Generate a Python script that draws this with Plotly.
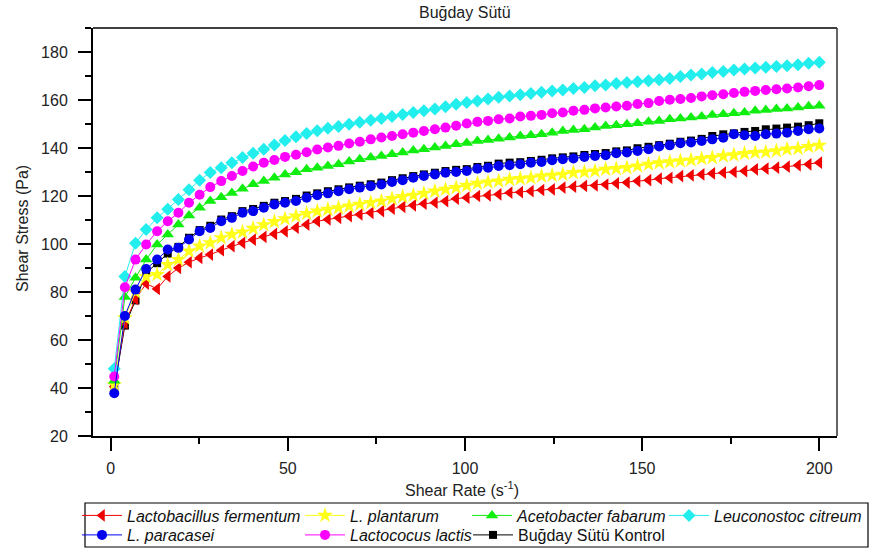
import plotly.graph_objects as go

FONT = "Liberation Sans, Arial, sans-serif"

shear_rate = [1.0, 4.0, 7.0, 10.0, 13.1, 16.1, 19.1, 22.1, 25.1, 28.1,
              31.2, 34.2, 37.2, 40.2, 43.2, 46.2, 49.2, 52.3, 55.3, 58.3,
              61.3, 64.3, 67.3, 70.3, 73.4, 76.4, 79.4, 82.4, 85.4, 88.4,
              91.5, 94.5, 97.5, 100.5, 103.5, 106.5, 109.5, 112.6, 115.6, 118.6,
              121.6, 124.6, 127.6, 130.6, 133.7, 136.7, 139.7, 142.7, 145.7, 148.7,
              151.8, 154.8, 157.8, 160.8, 163.8, 166.8, 169.8, 172.9, 175.9, 178.9,
              181.9, 184.9, 187.9, 190.9, 194.0, 197.0, 200.0]

l_fermentum = [40.5, 67.0, 77.0, 83.5, 81.3, 86.5, 90.0, 92.4, 94.2, 95.6,
               97.4, 99.1, 100.5, 101.8, 103.0, 104.2, 105.3, 106.8, 108.1, 109.5,
               110.2, 110.9, 111.6, 112.3, 113.0, 113.7, 114.7, 115.5, 116.1, 116.8,
               117.2, 117.9, 118.9, 119.3, 120.0, 120.3, 120.7, 121.4, 121.6, 122.0,
               122.5, 122.8, 123.5, 123.9, 124.2, 124.4, 124.8, 125.3, 125.6, 126.2,
               126.6, 127.2, 127.6, 128.3, 128.6, 129.0, 129.4, 129.7, 130.0, 130.4,
               131.1, 131.4, 131.8, 132.2, 132.8, 133.2, 133.9]

l_plantarum = [41.3, 69.2, 80.0, 86.3, 87.3, 91.4, 93.5, 97.0, 99.1, 100.5,
               102.6, 104.0, 105.0, 106.5, 108.0, 109.3, 110.5, 111.6, 112.7, 113.7,
               114.4, 115.1, 115.8, 116.5, 117.2, 117.9, 118.9, 119.7, 120.3, 121.1,
               122.0, 122.8, 123.5, 124.4, 125.3, 125.8, 126.2, 126.9, 127.2, 127.6,
               128.3, 128.6, 129.0, 129.7, 130.0, 130.4, 131.1, 131.4, 131.8, 132.5,
               133.2, 133.8, 134.2, 134.6, 135.0, 135.6, 136.0, 136.7, 137.1, 137.7,
               138.1, 138.3, 138.8, 139.5, 139.8, 140.6, 141.1]

a_fabarum = [43.0, 77.9, 85.9, 93.5, 99.8, 104.0, 108.1, 111.9, 115.1, 117.9,
             119.5, 121.3, 123.0, 124.9, 126.2, 127.6, 129.0, 129.9, 131.1, 131.8,
             132.5, 133.2, 134.4, 135.3, 136.0, 136.7, 137.4, 138.1, 139.0, 139.5,
             140.2, 140.8, 141.6, 142.1, 142.9, 143.3, 143.9, 144.4, 145.0, 145.3,
             145.7, 146.4, 147.1, 147.5, 147.8, 148.5, 149.2, 149.5, 149.9, 150.3,
             150.9, 151.3, 152.0, 152.3, 152.7, 153.1, 153.7, 154.1, 154.5, 154.8,
             155.5, 155.8, 156.2, 156.5, 156.9, 157.4, 157.6]

l_citreum = [48.0, 86.5, 100.3, 106.0, 110.9, 114.5, 118.5, 122.6, 126.6, 129.8,
             131.8, 133.9, 136.0, 137.8, 139.5, 141.2, 143.1, 144.7, 146.0, 147.2,
             148.2, 149.0, 149.9, 150.7, 151.6, 152.3, 153.1, 154.0, 154.8, 155.5,
             156.3, 157.2, 158.2, 159.0, 159.6, 160.4, 161.1, 161.7, 162.2, 162.7,
             163.2, 163.8, 164.2, 164.8, 165.2, 165.9, 166.3, 166.9, 167.3, 167.6,
             168.0, 168.4, 169.0, 169.8, 170.4, 170.8, 171.5, 171.9, 172.5, 172.9,
             173.3, 173.6, 174.0, 174.3, 174.7, 175.3, 175.7]

l_paracasei = [37.8, 70.0, 81.0, 89.6, 93.5, 97.7, 98.4, 101.9, 105.3, 106.7,
               109.5, 110.9, 113.0, 113.7, 115.1, 116.5, 117.2, 117.9, 119.3, 120.3,
               121.1, 122.0, 122.8, 123.5, 124.1, 124.8, 125.8, 126.6, 127.6, 128.3,
               129.0, 129.7, 130.0, 130.4, 131.4, 131.8, 132.5, 132.8, 133.2, 133.9,
               134.2, 134.9, 135.3, 135.6, 136.3, 136.7, 137.0, 137.8, 138.1, 138.8,
               139.5, 140.6, 141.1, 142.0, 142.3, 142.9, 143.6, 144.3, 145.7, 145.3,
               145.0, 145.7, 146.0, 146.4, 147.1, 147.8, 148.1]

l_lactis = [44.8, 82.0, 93.5, 99.8, 105.3, 109.5, 113.0, 117.2, 120.5, 123.7,
            126.2, 128.3, 130.4, 132.3, 133.9, 135.0, 136.3, 137.2, 138.2, 139.4,
            140.2, 140.9, 141.9, 142.6, 143.6, 144.4, 145.0, 145.7, 146.4, 147.1,
            147.8, 148.5, 149.3, 150.2, 150.9, 151.3, 152.0, 152.3, 153.1, 153.4,
            153.8, 154.5, 154.8, 155.5, 155.9, 156.5, 156.9, 157.3, 157.6, 158.3,
            158.7, 159.6, 160.1, 160.4, 160.8, 161.5, 162.0, 162.4, 162.9, 163.4,
            163.8, 164.2, 164.5, 164.8, 165.2, 165.7, 166.2]

kontrol = [40.0, 66.0, 76.5, 88.0, 92.0, 96.0, 98.8, 102.6, 105.8, 107.6,
           110.2, 111.6, 113.7, 114.6, 115.9, 117.2, 117.9, 118.8, 120.2, 121.1,
           122.0, 122.8, 123.6, 124.3, 124.9, 125.6, 126.6, 127.4, 128.3, 129.0,
           129.7, 130.4, 130.9, 131.2, 132.1, 132.6, 133.5, 133.9, 134.1, 134.6,
           135.1, 135.7, 136.1, 136.5, 137.1, 137.5, 137.9, 138.6, 139.0, 139.9,
           140.5, 141.2, 141.8, 142.6, 143.1, 143.8, 145.0, 145.7, 146.1, 146.7,
           147.1, 147.8, 148.1, 148.5, 148.9, 149.5, 150.3]

y_ticks = [20, 40, 60, 80, 100, 120, 140, 160, 180]
x_ticks = [0, 50, 100, 150, 200]

# The page body margin is removed (post_script below), so figure pixels are
# window pixels.
FIG_W, FIG_H = 871, 553
L, R, T, B = 93, 837, 28, 436
PW, PH = R - L, B - T


def px(xw):
    return (xw - L) / PW


def py(yw):
    return (B - yw) / PH


ROW1, ROW2 = 515.5, 535.0
ITEM_W = 40

# (name, values, color, symbol, size, legend id, legend text-start x, row y)
series = [
    ("Buğday Sütü Kontrol", kontrol, "#000000", "square", 8, "legend7", 519, ROW2),
    ("<i>Lactobacillus fermentum</i>", l_fermentum, "#f00000", "triangle-left", 11, "legend", 128, ROW1),
    ("<i>L. plantarum</i>", l_plantarum, "#ffff1a", "star", 12, "legend2", 351, ROW1),
    ("<i>Acetobacter fabarum</i>", a_fabarum, "#10ee10", "triangle-up", 11, "legend3", 518, ROW1),
    ("<i>Leuconostoc citreum</i>", l_citreum, "#22eeee", "diamond", 10, "legend4", 715, ROW1),
    ("<i>Lactococus lactis</i>", l_lactis, "#ff00ff", "circle", 10, "legend6", 351, ROW2),
    ("<i>L. paracasei</i>", l_paracasei, "#0000ee", "circle", 10, "legend5", 128, ROW2),
]

fig = go.Figure()
legends = {}
for name, vals, color, sym, size, leg, tx, ry in series:
    fig.add_trace(go.Scatter(
        x=shear_rate, y=vals, name=name, mode="lines+markers",
        line=dict(color=color, width=1),
        marker=dict(symbol=sym, size=size, color=color, line=dict(width=0)),
        legend=leg, showlegend=True,
    ))
    legends[leg] = dict(x=px(tx - ITEM_W - 11), y=py(ry), xanchor="left", yanchor="middle",
                        bgcolor="rgba(0,0,0,0)", borderwidth=0, itemwidth=ITEM_W,
                        font=dict(family=FONT, size=16, color="#111"))

axis_common = dict(
    showgrid=False, zeroline=False, showline=True, linecolor="#000", linewidth=2,
    ticks="outside", ticklen=13, tickwidth=2, tickcolor="#000",
    tickfont=dict(family=FONT, size=16, color="#222"),
)

fig.update_layout(
    width=FIG_W, height=FIG_H,
    margin=dict(l=L, r=FIG_W - R, t=T, b=FIG_H - B, autoexpand=False),
    paper_bgcolor="white", plot_bgcolor="white",
    font=dict(family=FONT, size=16, color="#222"),
    xaxis=dict(range=[-5, 205], tickvals=x_ticks, ticklabelstandoff=4,
               minor=dict(dtick=25, ticks="outside", ticklen=6, tickwidth=2, tickcolor="#000"),
               **axis_common),
    yaxis=dict(range=[20, 190], tickvals=y_ticks, ticklabelstandoff=7,
               minor=dict(dtick=10, ticks="outside", ticklen=6, tickwidth=2, tickcolor="#000"),
               **axis_common),
    shapes=[
        dict(type="line", xref="paper", yref="paper", x0=0, x1=1, y0=1, y1=1,
             line=dict(color="#000", width=1.5)),
        dict(type="line", xref="paper", yref="paper", x0=1, x1=1, y0=0, y1=1,
             line=dict(color="#333", width=1.5)),
        dict(type="rect", xref="paper", yref="paper", x0=px(85), x1=px(868),
             y0=py(547), y1=py(503), line=dict(color="#000", width=1.2),
             fillcolor="rgba(0,0,0,0)"),
    ],
    annotations=[
        dict(text="Buğday Sütü", xref="paper", yref="paper", x=px(465), y=py(13),
             xanchor="center", yanchor="middle", showarrow=False,
             font=dict(family=FONT, size=16, color="#222")),
        dict(text="Shear Rate (s<sup>-1</sup>)", xref="paper", yref="paper",
             x=px(462), y=py(489), xanchor="center", yanchor="middle",
             showarrow=False, font=dict(family=FONT, size=16, color="#222")),
        dict(text="Shear Stress (Pa)", xref="paper", yref="paper",
             x=px(22), y=py(229), xanchor="center", yanchor="middle", textangle=-90,
             showarrow=False, font=dict(family=FONT, size=16, color="#222")),
    ],
    **legends,
)

fig.write_html("out.html", config={"displayModeBar": False},
               post_script="document.body.style.margin='0px';")
